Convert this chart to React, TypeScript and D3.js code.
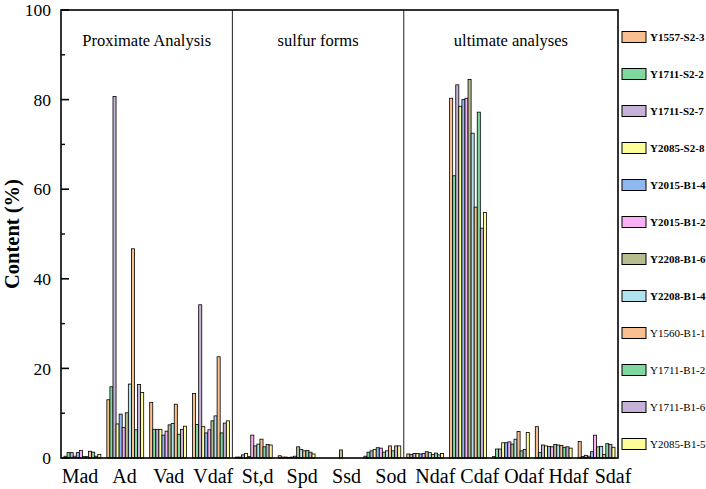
import React from "react";
import * as d3 from "d3";

const categories = ["Mad", "Ad", "Vad", "Vdaf", "St,d", "Spd", "Ssd", "Sod", "Ndaf", "Cdaf", "Odaf", "Hdaf", "Sdaf"];
const seriesNames = [
    "Y1557-S2-3", "Y1711-S2-2", "Y1711-S2-7", "Y2085-S2-8", "Y2015-B1-4", "Y2015-B1-2",
    "Y2208-B1-6", "Y2208-B1-4", "Y1560-B1-1", "Y1711-B1-2", "Y1711-B1-6", "Y2085-B1-5",
];
const seriesColors = [
    "#f9bf8e", "#7fd89e", "#c6b1d9", "#fdfd9a", "#8db8f0", "#f9b1f6",
    "#b8bd90", "#afe3ef", "#f9bf8e", "#7fd89e", "#c6b1d9", "#fdfd9a",
];
const boldLegend = [true, true, true, true, true, true, true, true, false, false, false, false];
const sectionNames = ["Proximate Analysis", "sulfur forms", "ultimate analyses"];
const sectionStarts = ["Mad", "St,d", "Ndaf"];
const yMajor = [0, 20, 40, 60, 80, 100];
const yMinor = [10, 30, 50, 70, 90];

// one array per category, 12 samples in legend order
const mad = [0.4, 1.2, 1.2, 0.4, 1.2, 1.7, 0.3, 0.3, 1.5, 1.3, 0.4, 0.8];
const ad = [13.0, 15.9, 80.7, 7.6, 9.8, 6.8, 10.1, 16.5, 46.7, 6.3, 16.4, 14.6];
const vad = [12.4, 6.4, 6.4, 6.4, 5.1, 6.0, 7.4, 7.7, 12.0, 5.3, 6.4, 7.1];
const vdaf = [14.4, 7.5, 34.2, 7.0, 5.6, 6.3, 8.3, 9.4, 22.6, 5.6, 7.8, 8.3];
const std = [0.2, 0.2, 0.7, 1.0, 0.3, 5.1, 2.7, 3.1, 4.2, 2.5, 3.0, 2.9];
const spd = [0.5, 0.2, 0.2, 0.1, 0.2, 0.4, 2.5, 1.9, 1.6, 1.7, 1.3, 0.9];
const ssd = [0, 0, 0, 0, 0, 0, 1.8, 0, 0, 0, 0, 0];
const sod = [0.4, 1.3, 1.6, 1.9, 2.3, 2.2, 1.3, 1.6, 2.7, 1.6, 2.7, 2.7];
const ndaf = [0.9, 0.8, 1.0, 1.0, 0.9, 1.0, 1.4, 1.2, 0.8, 1.1, 0.7, 1.0];
const cdaf = [80.3, 63.0, 83.3, 78.5, 80.0, 80.3, 84.5, 72.5, 56.0, 77.2, 51.3, 54.8];
const odaf = [0.3, 2.0, 2.0, 3.4, 3.4, 3.6, 3.1, 4.2, 5.9, 1.6, 1.9, 5.7];
const hdaf = [7.0, 1.2, 2.9, 2.7, 2.6, 2.5, 3.0, 2.9, 2.8, 2.4, 2.5, 2.2];
const sdaf = [3.7, 0.3, 0.6, 0.4, 1.4, 5.1, 2.5, 2.6, 0.8, 3.2, 3.0, 2.4];

const values = [mad, ad, vad, vdaf, std, spd, ssd, sod, ndaf, cdaf, odaf, hdaf, sdaf];

const W = 706;
const H = 489;
const left = 61;
const right = 618;
const top = 10;
const bottom = 458;
const serif = "'Liberation Serif', 'Times New Roman', serif";

export default function App() {
    const x = d3.scaleBand<string>().domain(categories).range([left, right]).paddingInner(0.14).paddingOuter(0.07);
    const x1 = d3.scaleBand<string>().domain(seriesNames).range([0, x.bandwidth()]);
    const y = d3.scaleLinear().domain([0, 100]).range([bottom, top]);
    // the category labels sit on their own, slightly wider spacing
    const xLabel = d3.scalePoint<string>().domain(categories).range([80, 613]);

    const gap = (x.step() * x.paddingInner()) / 2;
    const bounds = sectionStarts.map((c, i) => (i === 0 ? left : (x(c) as number) - gap)).concat([right]);

    return (
        <svg width={W} height={H} style={{ position: "absolute", left: 0, top: 0, background: "#fff" }}>
            {/* bars */}
            {categories.map((c, ci) => (
                <g key={c} transform={`translate(${x(c)},0)`}>
                    {values[ci].map((v, si) => (
                        <rect
                            key={si}
                            x={x1(seriesNames[si])}
                            y={y(v)}
                            width={x1.bandwidth()}
                            height={bottom - y(v)}
                            fill={seriesColors[si]}
                            stroke="#000"
                            strokeWidth={0.8}
                        />
                    ))}
                </g>
            ))}

            {/* section dividers */}
            {bounds.slice(1, 3).map((b, i) => (
                <line key={i} x1={b} x2={b} y1={top} y2={bottom} stroke="#222" strokeWidth={1} />
            ))}

            {/* section titles */}
            {sectionNames.map((s, i) => (
                <text key={s} x={(bounds[i] + bounds[i + 1]) / 2} y={46} textAnchor="middle"
                    fontFamily={serif} fontSize={16.5}>
                    {s}
                </text>
            ))}

            {/* frame */}
            <rect x={left} y={top} width={right - left} height={bottom - top} fill="none" stroke="#000" strokeWidth={1.6} />

            {/* y ticks */}
            {yMajor.map(t => (
                <g key={t}>
                    <line x1={left} x2={left + 8} y1={y(t)} y2={y(t)} stroke="#000" strokeWidth={1.6} />
                    <text x={51} y={y(t)} dy="0.35em" textAnchor="end" fontFamily={serif} fontSize={17.5}>{t}</text>
                </g>
            ))}
            {yMinor.map(t => (
                <line key={t} x1={left} x2={left + 4} y1={y(t)} y2={y(t)} stroke="#000" strokeWidth={1.4} />
            ))}

            {/* x labels */}
            {categories.map(c => (
                <text key={c} x={xLabel(c)} y={483} textAnchor="middle" fontFamily={serif} fontSize={20}>{c}</text>
            ))}

            {/* y title */}
            <text transform={`translate(19,${(top + bottom) / 2}) rotate(-90)`} textAnchor="middle"
                fontFamily={serif} fontSize={20.5} fontWeight="bold">
                Content (%)
            </text>

            {/* legend */}
            {seriesNames.map((s, i) => (
                <g key={s} transform={`translate(622,${37 + i * 37})`}>
                    <rect x={0} y={-5.5} width={24} height={11} fill={seriesColors[i]} stroke="#000" strokeWidth={1} />
                    <text x={28} y={0} dy="0.35em" fontFamily={serif} fontSize={11}
                        fontWeight={boldLegend[i] ? "bold" : "normal"}>{s}</text>
                </g>
            ))}
        </svg>
    );
}
